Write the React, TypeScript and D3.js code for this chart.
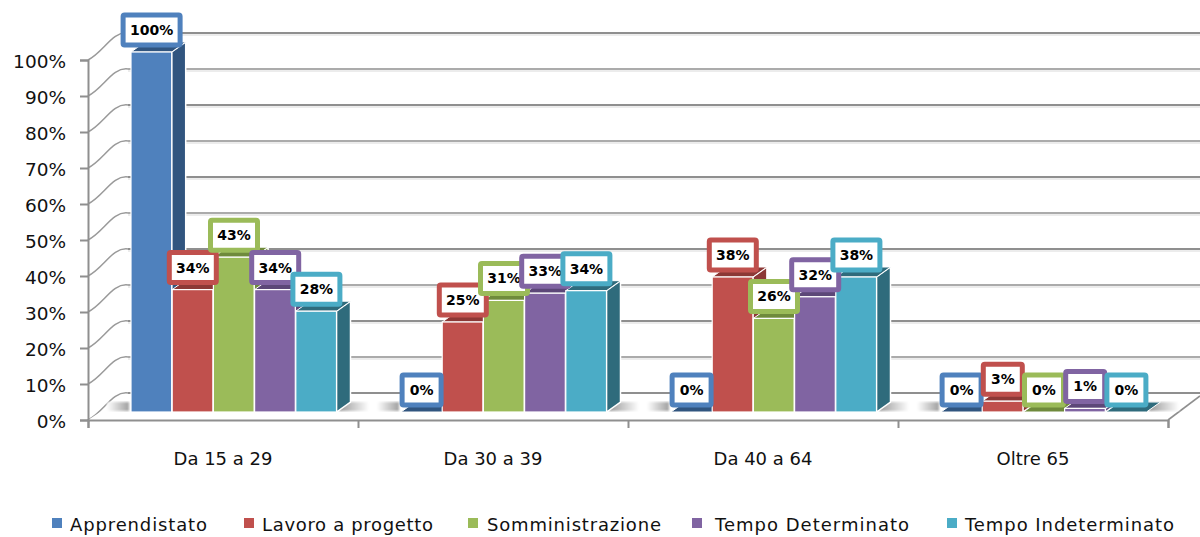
import React from "react";
import * as d3 from "d3";

const categories = ["Da 15 a 29", "Da 30 a 39", "Da 40 a 64", "Oltre 65"];
const seriesNames = ["Apprendistato", "Lavoro a progetto", "Somministrazione", "Tempo Determinato", "Tempo Indeterminato"];
const apprendistato = [100, 0, 0, 0];
const lavoroProgetto = [34, 25, 37.5, 3];
const somministrazione = [43, 31, 26, 0];
const tempoDeterminato = [34, 33, 32, 1];
const tempoIndeterminato = [28, 33.7, 37.5, 0];
const allSeries = [apprendistato, lavoroProgetto, somministrazione, tempoDeterminato, tempoIndeterminato];
const yTicks = [0, 10, 20, 30, 40, 50, 60, 70, 80, 90, 100];

const colors = ["#4f81bd", "#c0504d", "#9bbb59", "#8064a2", "#4bacc6"];
const darkColors = ["#31557f", "#8c3836", "#6f8a3c", "#5c4778", "#2f6b7c"];
const legendMarkX = [52, 244, 468, 692, 947];
const legendTextX = [70, 262, 487, 715, 965];
const legendTextW = [137, 171, 174, 194, 209];

const FONT = "'DejaVu Sans', sans-serif";
const GRID = "#8f8f8f";

const App = () => {
  const svgRef = React.useRef<SVGSVGElement>(null);

  React.useEffect(() => {
    const svg = d3.select(svgRef.current);
    svg.selectAll("*").remove();

    // front plane scales, back wall is the same thing shifted by depth
    const depthX = 40;
    const depthY = -27;
    const yFront = d3.scaleLinear().domain([0, 100]).range([420, 60]);
    const yBack = (v: number) => yFront(v) + depthY;
    const x0 = d3.scaleBand().domain(categories).range([88, 1168]);
    const x1 = d3.scaleBand().domain(seriesNames).range([43, 249]);
    const yBar = d3.scaleLinear().domain([0, 100]).range([412, 52]);
    const barW = x1.bandwidth();
    const sideX = 14;
    const sideY = -10;

    const defs = svg.append("defs");
    const fade = (id: string, from: string, to: string) => {
      const g = defs.append("linearGradient").attr("id", id);
      g.append("stop").attr("offset", 0).attr("stop-color", from);
      g.append("stop").attr("offset", 1).attr("stop-color", to);
    };
    fade("shadeIn", "#ffffff", "#a0a0a0");
    fade("shadeOut", "#989898", "#ffffff");
    defs.append("filter").attr("id", "soft")
      .append("feGaussianBlur").attr("stdDeviation", "0.9 1.2");

    // back wall grid lines
    yTicks.forEach((t) => {
      svg.append("line").attr("x1", 88 + depthX).attr("x2", 1200)
        .attr("y1", yBack(t) + 2).attr("y2", yBack(t) + 2)
        .attr("stroke", "#e6e6e6").attr("stroke-width", 1.5);
      svg.append("line").attr("x1", 88 + depthX).attr("x2", 1200)
        .attr("y1", yBack(t)).attr("y2", yBack(t))
        .attr("stroke", GRID).attr("stroke-width", t % 20 === 0 ? 2 : 1.6);
      // side wall
      svg.append("path")
        .attr("d", `M88,${yFront(t)} C104,${yFront(t) - 8} 112,${yBack(t) - 2} 128,${yBack(t)}`)
        .attr("fill", "none").attr("stroke", "#9a9a9a").attr("stroke-width", 1.5);
    });

    // floor
    svg.append("path")
      .attr("d", `M88,420 L128,394 L1200,394 L1200,396 L1168,420 Z`)
      .attr("fill", "#ffffff");
    svg.append("line").attr("x1", 1168).attr("y1", 420).attr("x2", 1200).attr("y2", 396)
      .attr("stroke", GRID).attr("stroke-width", 1.6);

    // soft shadows on the floor each side of a group
    categories.forEach((c) => {
      const gx = x0(c)!;
      svg.append("rect").attr("x", gx + 19).attr("y", 402).attr("width", 22).attr("height", 9)
        .attr("fill", "url(#shadeIn)").attr("filter", "url(#soft)");
      svg.append("rect").attr("x", gx + 251).attr("y", 402).attr("width", 30).attr("height", 9)
        .attr("fill", "url(#shadeOut)").attr("filter", "url(#soft)");
    });

    // axes
    const yAxis = d3.axisLeft(yFront).tickValues(yTicks).tickSize(8)
      .tickFormat((d) => `${d}%`);
    const yG = svg.append("g").attr("transform", "translate(88,0)").call(yAxis);
    const xAxis = d3.axisBottom(d3.scaleLinear().domain([0, 4]).range([88, 1168]))
      .ticks(4).tickSize(8).tickFormat(() => "");
    const xG = svg.append("g").attr("transform", "translate(0,420)").call(xAxis);
    [yG, xG].forEach((g) => {
      g.select(".domain").attr("stroke", GRID).attr("stroke-width", 2);
      g.selectAll("line").attr("stroke", GRID).attr("stroke-width", 2);
    });
    yG.selectAll("text")
      .attr("fill", "#111").attr("font-family", FONT).attr("font-size", 18.5).attr("x", -22).attr("dy", "0.42em");

    categories.forEach((c) => {
      svg.append("text").attr("x", x0(c)! + x0.bandwidth() / 2).attr("y", 465)
        .attr("text-anchor", "middle").attr("fill", "#111")
        .attr("font-family", FONT).attr("font-size", 18).text(c);
    });

    // bars, left to right so each front hides the side of the one before
    categories.forEach((c, ci) => {
      seriesNames.forEach((s, si) => {
        const v = allSeries[si][ci];
        const x = x0(c)! + x1(s)!;
        const top = yBar(v);
        const base = yBar(0);
        const w = barW - 0.5;
        svg.append("path")
          .attr("d", `M${x + w},${top} l${sideX},${sideY} L${x + w + sideX},${base + sideY} L${x + w},${base} Z`)
          .attr("fill", darkColors[si]).attr("stroke", "#fff").attr("stroke-width", v > 0 ? 1.5 : 0);
        svg.append("path")
          .attr("d", `M${x},${top} l${sideX},${sideY} h${w} l${-sideX},${-sideY} Z`)
          .attr("fill", darkColors[si]).attr("stroke", "#fff").attr("stroke-width", 1);
        svg.append("rect").attr("x", x).attr("y", top).attr("width", w).attr("height", base - top)
          .attr("fill", colors[si]).attr("stroke", "#fff").attr("stroke-width", 1.2);
      });
    });

    // value boxes go on top of every bar
    categories.forEach((c, ci) => {
      seriesNames.forEach((s, si) => {
        const v = allSeries[si][ci];
        const cx = x0(c)! + x1(s)! + barW / 2;
        const cy = yBar(v) - 22;
        const label = `${Math.round(v)}%`;
        const w = label.length >= 4 ? 57 : label.length === 3 ? 47 : 39;
        svg.append("rect").attr("x", cx - w / 2).attr("y", cy - 15).attr("width", w).attr("height", 30)
          .attr("rx", 1.5).attr("fill", "#fff").attr("stroke", colors[si]).attr("stroke-width", 5);
        svg.append("text").attr("x", cx).attr("y", cy).attr("dy", "0.36em")
          .attr("text-anchor", "middle").attr("fill", "#000")
          .attr("font-family", FONT).attr("font-weight", 700).attr("font-size", 14).text(label);
      });
    });

    // legend
    seriesNames.forEach((s, i) => {
      svg.append("rect").attr("x", legendMarkX[i]).attr("y", 518).attr("width", 10).attr("height", 10)
        .attr("fill", colors[i]);
      svg.append("text").attr("x", legendTextX[i]).attr("y", 530.5)
        .attr("fill", "#111").attr("font-family", FONT).attr("font-size", 18)
        .attr("textLength", legendTextW[i]).attr("lengthAdjust", "spacing").text(s);
    });
  }, []);

  return (
    <svg
      ref={svgRef}
      width={1200}
      height={537}
      style={{ position: "absolute", left: 0, top: 0, background: "#fff" }}
    />
  );
};

export default App;
